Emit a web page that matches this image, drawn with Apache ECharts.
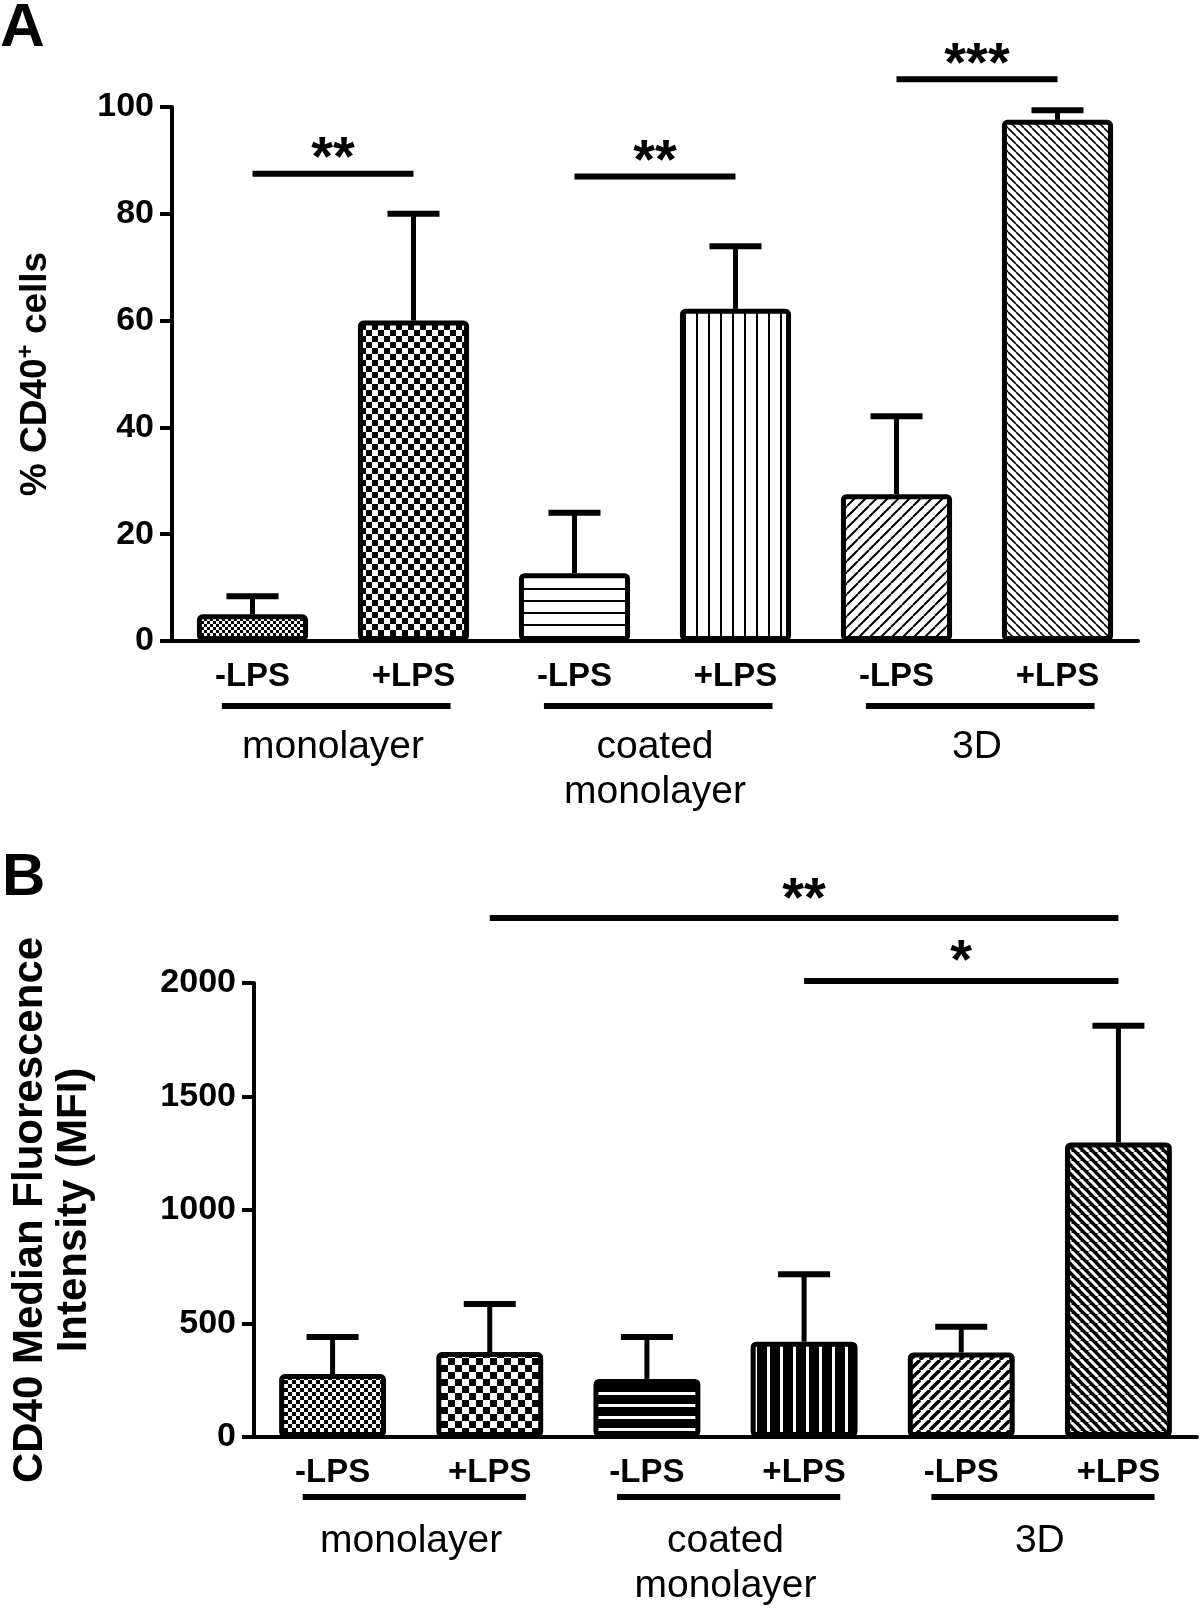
<!DOCTYPE html>
<html lang="en">
<head>
<meta charset="UTF-8">
<title>CD40 expression</title>
<script src="https://cdn.jsdelivr.net/npm/echarts@6/dist/echarts.min.js"></script>
<style>
    html, body { margin: 0; padding: 0; background: #fff; }
    #main { width: 1200px; height: 1608px; }
</style>
</head>
<body>
<div id="main"></div>
<script>
// ---- data ----
var conditions = ['-LPS', '+LPS', '-LPS', '+LPS', '-LPS', '+LPS'];
var groups = ['monolayer', 'coated\nmonolayer', '3D'];
var groupStart = [0, 2, 4];

// panel A: % CD40+ cells (mean, mean + error)
var pctTicks = [0, 20, 40, 60, 80, 100];
var pctMean = [5.0, 60.0, 12.7, 62.2, 27.5, 97.6];
var pctUpper = [8.4, 80.0, 24.0, 73.9, 42.1, 99.4];
// [from, to, y, stars]
var sigA = [[0, 1, 87.5, '**'], [2, 3, 87.0, '**'], [4, 5, 105.2, '***']];

// panel B: CD40 MFI
var mfiTicks = [0, 500, 1000, 1500, 2000];
var mfiMean = [277, 374, 256, 420, 372, 1297];
var mfiUpper = [441, 586, 441, 717, 486, 1812];
var sigB = [[1, 5, 2286, '**'], [3, 5, 2009, '*']];

// ---- fill patterns ----
function canvasOf(w, h) {
    var c = document.createElement('canvas');
    c.width = w; c.height = h;
    return c;
}
function checker(cell, fg, bg) {
    var c = canvasOf(cell * 2, cell * 2), g = c.getContext('2d');
    g.fillStyle = bg; g.fillRect(0, 0, cell * 2, cell * 2);
    g.fillStyle = fg; g.fillRect(0, 0, cell, cell); g.fillRect(cell, cell, cell, cell);
    return {image: c, repeat: 'repeat'};
}
function stripes(horizontal, gap, lw, fg, bg) {
    var c = horizontal ? canvasOf(4, gap) : canvasOf(gap, 4), g = c.getContext('2d');
    g.fillStyle = bg; g.fillRect(0, 0, c.width, c.height);
    g.fillStyle = fg;
    if (horizontal) g.fillRect(0, 0, 4, lw); else g.fillRect(0, 0, lw, 4);
    return {image: c, repeat: 'repeat'};
}
function diag(dir, s, lw, fg, bg) {
    var c = canvasOf(s, s), g = c.getContext('2d');
    g.fillStyle = bg; g.fillRect(0, 0, s, s);
    g.strokeStyle = fg; g.lineWidth = lw;
    g.beginPath();
    for (var k = -1; k <= 1; k++) {
        if (dir === '/') { g.moveTo(k * s, s); g.lineTo(k * s + s, 0); }
        else { g.moveTo(k * s, 0); g.lineTo(k * s + s, s); }
    }
    g.stroke();
    return {image: c, repeat: 'repeat'};
}
var K = '#000', W = '#fff';
var fillA = [checker(3, K, W), checker(6, K, W), stripes(true, 12, 2, K, W),
             stripes(false, 12, 2, K, W), diag('/', 11, 2, K, W), diag('\\', 8, 1.6, K, W)];
var fillB = [checker(4, K, W), checker(7, K, W), stripes(true, 12, 3, W, K),
             stripes(false, 13, 3, W, K), diag('/', 10, 3.5, K, W), diag('\\', 9, 3, W, K)];

var sans = "'Liberation Sans', Arial, sans-serif";
var narrow = "'Liberation Sans Narrow', 'Arial Narrow', 'Liberation Sans', Arial, sans-serif";

// ---- series builders ----
function barSeries(idx, means, fills, width) {
    return {
        type: 'bar', xAxisIndex: idx, yAxisIndex: idx, z: 3, silent: true,
        barWidth: width,
        itemStyle: {borderColor: K, borderWidth: 5, borderRadius: 3},
        data: means.map(function (v, i) { return {value: v, itemStyle: {color: fills[i]}}; })
    };
}
function errorSeries(idx, means, uppers) {
    return {
        type: 'custom', xAxisIndex: idx, yAxisIndex: idx, z: 2, silent: true, clip: false,
        data: means.map(function (m, i) { return [i, m, uppers[i]]; }),
        encode: {x: 0, y: [1, 2]},
        renderItem: function (params, api) {
            var base = api.coord([api.value(0), api.value(1)]);
            var top = api.coord([api.value(0), api.value(2)]);
            return {type: 'group', children: [
                {type: 'line', shape: {x1: base[0], y1: base[1], x2: top[0], y2: top[1]},
                    style: {stroke: K, lineWidth: 5}},
                {type: 'line', shape: {x1: top[0] - 26, y1: top[1], x2: top[0] + 26, y2: top[1]},
                    style: {stroke: K, lineWidth: 6}}
            ]};
        }
    };
}
function sigSeries(idx, sig, starGap) {
    return {
        type: 'custom', xAxisIndex: idx, yAxisIndex: idx, z: 4, silent: true, clip: false,
        data: sig.map(function (s) { return [s[0], s[1], s[2]]; }),
        encode: {x: [0, 1], y: 2},
        renderItem: function (params, api) {
            var p1 = api.coord([api.value(0), api.value(2)]);
            var p2 = api.coord([api.value(1), api.value(2)]);
            return {type: 'group', children: [
                {type: 'line', shape: {x1: p1[0], y1: p1[1], x2: p2[0], y2: p2[1]},
                    style: {stroke: K, lineWidth: 6}},
                {type: 'text', style: {text: sig[params.dataIndex][3], x: (p1[0] + p2[0]) / 2,
                    y: p1[1] - starGap, align: 'center', verticalAlign: 'middle',
                    fontSize: 56, fontWeight: 'bold', fontFamily: sans, fill: K}}
            ]};
        }
    };
}
function groupSeries(idx, lineDrop, textDrop) {
    return {
        type: 'custom', xAxisIndex: idx, yAxisIndex: idx, z: 4, silent: true, clip: false,
        data: groupStart.map(function (s) { return [s, 0]; }),
        encode: {x: 0, y: 1},
        renderItem: function (params, api) {
            var a = api.coord([api.value(0), 0]);
            var b = api.coord([api.value(0) + 1, 0]);
            var bw = api.size([1, 0])[0];
            var x1 = a[0] - 0.19 * bw, x2 = b[0] + 0.23 * bw;
            return {type: 'group', children: [
                {type: 'line', shape: {x1: x1, y1: a[1] + lineDrop, x2: x2, y2: a[1] + lineDrop},
                    style: {stroke: K, lineWidth: 6}},
                {type: 'text', style: {text: groups[params.dataIndex], x: (a[0] + b[0]) / 2,
                    y: a[1] + textDrop, align: 'center', verticalAlign: 'top',
                    fontSize: 39, lineHeight: 45, fontFamily: sans, fill: K}}
            ]};
        }
    };
}

function xAxisOf(idx) {
    return {
        type: 'category', gridIndex: idx, data: conditions,
        axisLine: {lineStyle: {color: K, width: 4}},
        axisTick: {alignWithLabel: true, length: 12, lineStyle: {color: K, width: 4}},
        axisLabel: {interval: 0, color: K, fontSize: 33, fontWeight: 'bold', fontFamily: sans, margin: 19},
        splitLine: {show: false}
    };
}
function yAxisOf(idx, ticks, name, gap, size, extra) {
    var ax = {
        type: 'value', gridIndex: idx,
        min: ticks[0], max: ticks[ticks.length - 1], interval: ticks[1] - ticks[0],
        axisLine: {show: true, lineStyle: {color: K, width: 4}},
        axisTick: {show: true, length: 12, lineStyle: {color: K, width: 4}},
        axisLabel: {color: K, fontSize: 34, fontWeight: 'bold', fontFamily: narrow, margin: 18,
            formatter: function (v) { return String(v); }},
        splitLine: {show: false},
        name: name, nameLocation: 'middle', nameGap: gap,
        nameTextStyle: {color: K, fontSize: size, fontWeight: 'bold', fontFamily: sans, lineHeight: 44}
    };
    if (extra) ax.nameTextStyle.rich = extra;
    return ax;
}

var chart = echarts.init(document.getElementById('main'), null, {renderer: 'canvas'});
chart.setOption({
    animation: false,
    backgroundColor: '#fff',
    title: [
        {text: 'A', left: 0, top: -2, padding: 0,
            textStyle: {fontSize: 62, fontWeight: 'bold', fontFamily: narrow, color: K}},
        {text: 'B', left: 2, top: 848, padding: 0,
            textStyle: {fontSize: 60, fontWeight: 'bold', fontFamily: narrow, color: K}}
    ],
    grid: [
        {left: 172, top: 107, width: 966, height: 534},
        {left: 249, top: 983, width: 948, height: 454}
    ],
    xAxis: [xAxisOf(0), xAxisOf(1)],
    yAxis: [
        yAxisOf(0, pctTicks, '% CD40{sup|+} cells', 114, 37,
            {sup: {fontSize: 24, fontWeight: 'bold', fontFamily: sans, color: K, verticalAlign: 'top'}}),
        yAxisOf(1, mfiTicks, 'CD40 Median Fluorescence\nIntensity (MFI)', 158, 42)
    ],
    series: [
        errorSeries(0, pctMean, pctUpper),
        barSeries(0, pctMean, fillA, '69%'),
        sigSeries(0, sigA, 14),
        groupSeries(0, 65, 84),
        errorSeries(1, mfiMean, mfiUpper),
        barSeries(1, mfiMean, fillB, '68%'),
        sigSeries(1, sigB, 18),
        groupSeries(1, 60, 82)
    ]
});
</script>
</body>
</html>
